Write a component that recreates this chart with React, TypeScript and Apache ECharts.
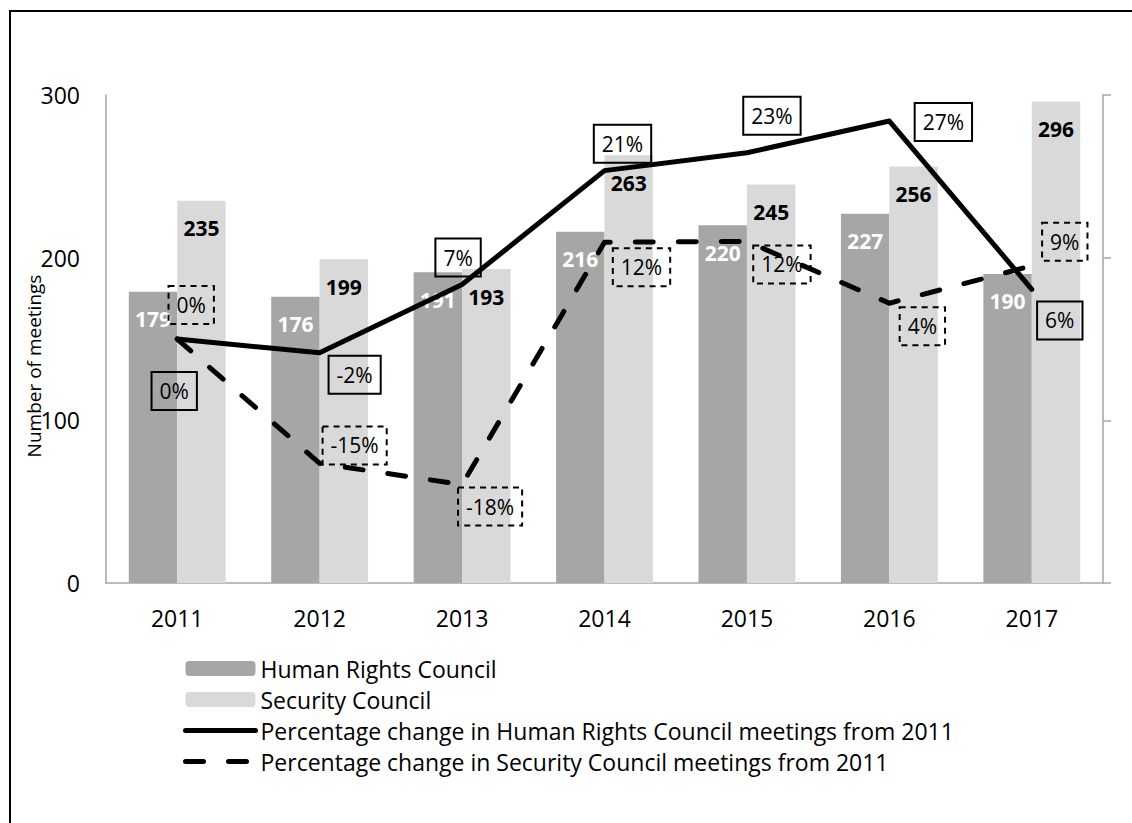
import React, { useEffect, useRef } from "react";
import * as echarts from "echarts";

const years = ["2011", "2012", "2013", "2014", "2015", "2016", "2017"];
const hrcMeetings = [179, 176, 191, 216, 220, 227, 190];
const scMeetings = [235, 199, 193, 263, 245, 256, 296];
const hrcChange = [0, -0.017, 0.067, 0.207, 0.229, 0.268, 0.061];
const scChange = [0, -0.153, -0.179, 0.119, 0.12, 0.044, 0.09];

const seriesNames = [
  "Human Rights Council",
  "Security Council",
  "Percentage change in Human Rights Council meetings from 2011",
  "Percentage change in Security Council meetings from 2011",
];

// label box offsets (layout only)
const hrcLabelOffsets = [[-3, 52], [35, 22], [-4, -27], [18, -27], [25, -37], [54, 1], [28, 31]];
const scLabelOffsets = [[14, -34], [35, -18], [28, 22], [37, 25], [35, 23], [33, 23], [33, -24]];

const FONT = "'Open Sans', Lato, sans-serif";
const DASH = [18, 25];

export default function App() {
  const ref = useRef<HTMLDivElement>(null);
  useEffect(() => {
    if (!ref.current) return;
    const chart = echarts.init(ref.current, undefined, { renderer: "svg" });
    const pctLabel = (dashed: boolean) => ({
      show: true,
      position: "inside",
      color: "#000",
      fontFamily: FONT,
      fontSize: 21,
      lineHeight: 22,
      padding: [8, 8, 8, 8],
      borderColor: "#000",
      borderWidth: 2,
      borderType: dashed ? [6, 5] : "solid",
      formatter: (p: any) => Math.round(p.value * 100) + "%",
    });
    const barLabel = (color: string) => ({
      show: true,
      position: "insideTop",
      distance: 17,
      color,
      fontWeight: "bold",
      fontSize: 21,
      lineHeight: 21,
      fontFamily: FONT,
    });
    const option: any = {
      animation: false,
      textStyle: { fontFamily: FONT },
      grid: { left: 106, right: 29, top: 95, bottom: 240, containLabel: false },
      legend: {
        orient: "vertical",
        left: 183,
        top: 657,
        padding: 0,
        itemGap: 8,
        itemWidth: 70,
        itemHeight: 15,
        data: [
          { name: seriesNames[0] },
          { name: seriesNames[1] },
          { name: seriesNames[2], lineStyle: { width: 5, color: "#000", cap: "round" } },
          { name: seriesNames[3], lineStyle: { width: 5, color: "#000", type: DASH, cap: "round" } },
        ],
        textStyle: { fontFamily: FONT, fontSize: 23, lineHeight: 23, color: "#000" },
        selectedMode: false,
      },
      xAxis: {
        type: "category",
        data: years,
        axisLine: { lineStyle: { color: "#a6a6a6", width: 1.5 } },
        axisTick: { show: false },
        axisLabel: { color: "#000", fontSize: 23, fontFamily: FONT, margin: 23 },
      },
      yAxis: [
        {
          type: "value",
          min: 0,
          max: 300,
          interval: 100,
          axisLine: { show: true, lineStyle: { color: "#a6a6a6", width: 1.5 } },
          axisTick: { show: false },
          splitLine: { show: false },
          axisLabel: { color: "#000", fontSize: 23, fontFamily: FONT, margin: 26 },
        },
        {
          type: "value",
          min: -0.3,
          max: 0.3,
          interval: 0.2,
          position: "right",
          axisLine: { show: true, lineStyle: { color: "#a6a6a6", width: 1.5 } },
          axisTick: { show: true, length: 8, lineStyle: { color: "#a6a6a6", width: 1.5 } },
          splitLine: { show: false },
          axisLabel: { show: false },
        },
      ],
      series: [
        {
          name: seriesNames[0],
          type: "bar",
          data: hrcMeetings,
          barGap: "0%",
          barCategoryGap: "32%",
          itemStyle: { color: "#a6a6a6" },
          label: barLabel("#fff"),
        },
        {
          name: seriesNames[1],
          type: "bar",
          data: scMeetings,
          barGap: "0%",
          barCategoryGap: "32%",
          itemStyle: { color: "#d9d9d9" },
          label: barLabel("#000"),
        },
        {
          name: seriesNames[2],
          type: "line",
          yAxisIndex: 1,
          symbol: "circle",
          symbolSize: 1,
          itemStyle: { color: "transparent" },
          lineStyle: { color: "#000", width: 5, cap: "round", join: "round" },
          data: hrcChange.map((v, i) => ({
            value: v,
            label: { offset: hrcLabelOffsets[i] },
          })),
          label: pctLabel(false),
          z: 3,
        },
        {
          name: seriesNames[3],
          type: "line",
          yAxisIndex: 1,
          symbol: "circle",
          symbolSize: 1,
          itemStyle: { color: "transparent" },
          lineStyle: { color: "#000", width: 5, type: DASH, cap: "round", join: "round" },
          data: scChange.map((v, i) => ({
            value: v,
            label: { offset: scLabelOffsets[i] },
          })),
          label: pctLabel(true),
          z: 3,
        },
      ],
      graphic: [
        {
          type: "rect",
          shape: { x: 10, y: 11, width: 1300, height: 1000 },
          style: { fill: "none", stroke: "#000", lineWidth: 2 },
          silent: true,
        },
        {
          type: "text",
          x: 34,
          y: 366,
          rotation: Math.PI / 2,
          style: {
            text: "Number of meetings",
            fontFamily: FONT,
            fontSize: 19,
            fill: "#000",
            align: "center",
            verticalAlign: "middle",
          },
        },
      ],
    };
    chart.setOption(option);
    return () => chart.dispose();
  }, []);
  return (
    <div
      ref={ref}
      style={{ position: "absolute", left: 0, top: 0, width: 1132, height: 823, background: "#fff" }}
    />
  );
}
